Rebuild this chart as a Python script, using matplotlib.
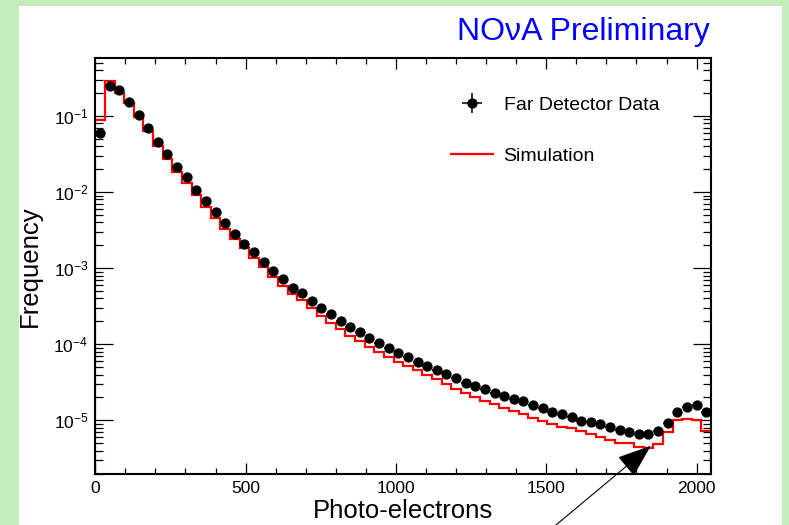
import numpy as np
import matplotlib
matplotlib.use("Agg")
import matplotlib.pyplot as plt
from matplotlib.patches import Rectangle
from matplotlib.ticker import MultipleLocator, LogLocator, NullFormatter

plt.rcParams['font.family'] = ['Liberation Sans', 'DejaVu Sans']
plt.rcParams['mathtext.fontset'] = 'custom'
plt.rcParams['mathtext.rm'] = 'Liberation Sans'
plt.rcParams['mathtext.it'] = 'Liberation Sans:italic'
plt.rcParams['mathtext.bf'] = 'Liberation Sans:bold'

# histogram binning (photo-electrons)
bin_width = 32
n_bins = 64

# Far Detector data, per bin
data_freq = [0.0593, 0.248, 0.220, 0.154, 0.103, 0.0689, 0.0459, 0.0314, 0.0216, 0.0156,
             0.01066, 0.00764, 0.00543, 0.00389, 0.00281, 0.00208, 0.00162, 0.00122, 9.27e-4, 7.14e-4,
             5.54e-4, 4.68e-4, 3.71e-4, 2.97e-4, 2.48e-4, 2.04e-4, 1.70e-4, 1.44e-4, 1.20e-4, 1.03e-4,
             9.02e-5, 7.62e-5, 6.75e-5, 5.90e-5, 5.19e-5, 4.59e-5, 4.03e-5, 3.57e-5, 3.13e-5, 2.83e-5,
             2.59e-5, 2.31e-5, 2.09e-5, 1.91e-5, 1.80e-5, 1.59e-5, 1.44e-5, 1.30e-5, 1.20e-5, 1.10e-5,
             9.91e-6, 9.62e-6, 8.97e-6, 8.26e-6, 7.48e-6, 7.11e-6, 6.63e-6, 6.57e-6, 7.33e-6, 9.33e-6,
             1.28e-5, 1.51e-5, 1.59e-5, 1.30e-5]

# Simulation, per bin
sim_freq = [0.0886, 0.288, 0.199, 0.147, 0.0979, 0.0635, 0.0404, 0.0272, 0.0185, 0.0133,
            0.00916, 0.00643, 0.00461, 0.00325, 0.00242, 0.00183, 0.00135, 0.00102, 7.73e-4, 5.89e-4,
            4.58e-4, 3.77e-4, 2.95e-4, 2.35e-4, 1.93e-4, 1.59e-4, 1.30e-4, 1.09e-4, 9.08e-5, 7.80e-5,
            6.71e-5, 5.85e-5, 5.10e-5, 4.53e-5, 3.95e-5, 3.44e-5, 3.01e-5, 2.59e-5, 2.26e-5, 2.00e-5,
            1.80e-5, 1.62e-5, 1.46e-5, 1.33e-5, 1.20e-5, 1.08e-5, 9.68e-6, 8.84e-6, 8.19e-6, 7.83e-6,
            7.26e-6, 6.63e-6, 6.05e-6, 5.52e-6, 5.04e-6, 4.97e-6, 4.40e-6, 4.34e-6, 4.82e-6, 7.04e-6,
            1.01e-5, 1.04e-5, 1.01e-5, 7.33e-6]

edges = np.arange(n_bins + 1) * bin_width
centers = edges[:-1] + bin_width / 2

fig = plt.figure(figsize=(7.89, 5.25), dpi=100)
fig.patch.set_facecolor('#c5ecbd')
fig.patches.append(Rectangle((19 / 789, 0), (782 - 19) / 789, (525 - 6) / 525,
                             transform=fig.transFigure, facecolor='white',
                             edgecolor='none', zorder=-10))

ax = fig.add_axes([95.3 / 789, 1 - 474 / 525, (711 - 95.3) / 789, (474 - 58) / 525])

ax.stairs(sim_freq, edges, baseline=1e-8, color='#ff0000', lw=1.6,
          label='Simulation', zorder=2)
ax.errorbar(centers, data_freq, xerr=bin_width / 2, yerr=np.zeros(n_bins),
            fmt='o', color='black', ms=6.4, lw=1.1, capsize=0,
            label='Far Detector Data', zorder=3)

ax.set_yscale('log')
ax.set_xlim(0, 2048)
ax.set_ylim(1.97e-6, 0.578)

ax.xaxis.set_major_locator(MultipleLocator(500))
ax.xaxis.set_minor_locator(MultipleLocator(100))
ax.yaxis.set_major_locator(LogLocator(base=10, numticks=20))
ax.yaxis.set_minor_locator(LogLocator(base=10, subs=np.arange(2, 10), numticks=20))
ax.yaxis.set_minor_formatter(NullFormatter())

ax.tick_params(axis='both', which='both', direction='in', top=True, right=True,
               width=0.9, labelsize=12.5, pad=5)
ax.tick_params(axis='x', which='major', length=8)
ax.tick_params(axis='x', which='minor', length=4.3)
ax.tick_params(axis='y', which='major', length=13)
ax.tick_params(axis='y', which='minor', length=6)
for sp in ax.spines.values():
    sp.set_linewidth(1.5)

ax.set_xlabel('Photo-electrons', fontsize=18.5, labelpad=2)
ax.set_ylabel('Frequency', fontsize=18.5, labelpad=8)

handles, labels = ax.get_legend_handles_labels()
ax.legend(handles[::-1], labels[::-1], frameon=False, fontsize=14,
          loc='upper left', bbox_to_anchor=(451 / 789, 1 - 96 / 525),
          bbox_transform=fig.transFigure, borderpad=0, handlelength=2.15,
          handletextpad=0.55, labelspacing=1.72, borderaxespad=0)

fig.text(710 / 789, 1 - 40 / 525, 'NO\u03bdA Preliminary', color='#0000ff',
         fontsize=23, ha='right', va='baseline')

ax.annotate('', xy=(1848, 4.63e-6), xycoords='data',
            xytext=(556 / 789, 0), textcoords='figure fraction',
            arrowprops=dict(arrowstyle='-|>,head_length=1.08,head_width=0.4',
                            mutation_scale=20, color='black', lw=0.8,
                            shrinkA=0, shrinkB=0),
            annotation_clip=False)

fig.savefig('out.png', dpi=100, facecolor=fig.get_facecolor())
